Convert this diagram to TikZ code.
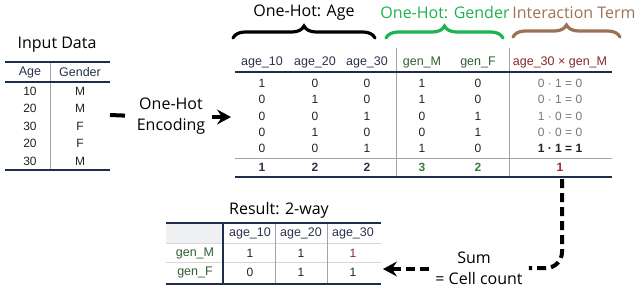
\documentclass[tikz,border=0pt]{standalone}
\usepackage{fontspec}
\setmainfont{Open Sans}
\newfontfamily\tabfont{Liberation Sans}
\usetikzlibrary{arrows.meta,decorations.pathreplacing}
\definecolor{navy}{HTML}{1F2D4D}
\definecolor{headc}{HTML}{28324A}
\definecolor{genc}{HTML}{2E5E33}
\definecolor{intc}{HTML}{8B2525}
\definecolor{cellc}{HTML}{222222}
\definecolor{grayv}{HTML}{777777}
\definecolor{rulegray}{HTML}{A0A4AA}
\definecolor{lightrule}{HTML}{D4D7DB}
\definecolor{bracegreen}{HTML}{1DB350}
\definecolor{bracebrown}{HTML}{9C7257}
\definecolor{totgreen}{HTML}{3A7A3A}
\definecolor{totred}{HTML}{A02828}
\definecolor{cellfill}{HTML}{EEF0F2}
\begin{document}
\begin{tikzpicture}[x=1pt,y=-1pt,
  lbl/.style={font=\fontsize{16}{21}\selectfont, inner sep=1pt, align=center},
  hd/.style={font=\tabfont\fontsize{12.5}{14}\selectfont, text=headc, inner sep=0pt},
  cl/.style={font=\tabfont\fontsize{12}{14}\selectfont, text=cellc, inner sep=0pt},
  iv/.style={font=\tabfont\fontsize{12}{14}\selectfont, text=grayv, inner sep=0pt},
  tot/.style={font=\tabfont\bfseries\fontsize{12}{14}\selectfont, text=headc, inner sep=0pt},
  navyrule/.style={draw=navy, line width=1.8pt},
  thinrule/.style={draw=rulegray, line width=0.7pt},
  lightline/.style={draw=lightrule, line width=0.7pt},
  bracestyle/.style={decorate, decoration={brace, amplitude=12pt}, line width=3.2pt, line cap=round},
  bigdash/.style={draw=black, line width=4pt, dash pattern=on 9pt off 5pt},
  bigtip/.style={-{Stealth[length=14pt,width=15pt,inset=5pt]}}
]
\useasboundingbox (0,0) rectangle (640,303);

% ---------- Input table ----------
\node[lbl] (inTitle) at (57,45) {Input Data};
\fill[white] (5,62) rectangle (110,170);
\draw[thinrule] (50,62) -- (50,170);
\draw[navyrule] (5,62) -- (110,62);
\draw[navyrule] (5,82) -- (110,82);
\draw[navyrule] (5,170) -- (110,170);
\node[hd] (inH1) at (30,72) {Age};
\node[hd] (inH2) at (80,72) {Gender};
\foreach \y/\a/\g [count=\i] in {91/10/M, 108.5/20/M, 126/30/F, 143.5/20/F, 161/30/M}{
  \node[cl] (inA\i) at (30,\y) {\a};
  \node[cl] (inG\i) at (80,\y) {\g};
}
\coordinate (inE) at (110,115);

% ---------- One-hot encoding arrow ----------
\node[lbl, inner xsep=2pt] (enc) at (171,116) {One-Hot\\Encoding};
\draw[line width=4pt, dash pattern=on 15pt off 20pt] (inE) -- (enc.west);
\coordinate (mainW) at (231,117);
\draw[line width=4pt, bigtip, shorten <=5pt] (enc.east |- mainW) -- (mainW);

% ---------- Braces ----------
\coordinate (bA1) at (233,38);
\coordinate (bA2) at (375,38);
\draw[bracestyle, draw=black] (bA1) -- (bA2);
\node[lbl] (lblAge) at (304,13) {One-Hot: Age};
\coordinate (bG1) at (386,38);
\coordinate (bG2) at (503,38);
\draw[bracestyle, draw=bracegreen] (bG1) -- (bG2);
\node[lbl, text=bracegreen] (lblGen) at (445,13) {One-Hot: Gender};
\coordinate (bI1) at (513,37);
\coordinate (bI2) at (620,37);
\draw[bracestyle, draw=bracebrown] (bI1) -- (bI2);
\node[lbl, text=bracebrown] (lblInt) at (574,13) {Interaction Term};

% ---------- Main table ----------
\draw[thinrule] (396,48) -- (396,177);
\draw[thinrule] (509,48) -- (509,177);
\draw[navyrule] (235,72) -- (612,72);
\draw[thinrule] (235,158) -- (612,158);
\draw[navyrule] (235,177) -- (612,177);
\node[hd] (h1) at (262,62) {age\_10};
\node[hd] (h2) at (315,62) {age\_20};
\node[hd] (h3) at (367,62) {age\_30};
\node[hd, text=genc] (h4) at (422,62) {gen\_M};
\node[hd, text=genc] (h5) at (478,62) {gen\_F};
\node[hd, text=intc] (h6) at (560,62) {age\_30 × gen\_M};
\foreach \y/\a/\b/\c/\d/\e/\f [count=\i] in {
  83/1/0/0/1/0/{0 · 1 = 0},
  99.5/0/1/0/1/0/{0 · 1 = 0},
  116/0/0/1/0/1/{1 · 0 = 0},
  132/0/1/0/0/1/{0 · 0 = 0}}{
  \node[cl] (r\i c1) at (262,\y) {\a};
  \node[cl] (r\i c2) at (315,\y) {\b};
  \node[cl] (r\i c3) at (367,\y) {\c};
  \node[cl] (r\i c4) at (422,\y) {\d};
  \node[cl] (r\i c5) at (478,\y) {\e};
  \node[iv] (r\i c6) at (560,\y) {\f};
}
\node[cl] (r5c1) at (262,148) {0};
\node[cl] (r5c2) at (315,148) {0};
\node[cl] (r5c3) at (367,148) {1};
\node[cl] (r5c4) at (422,148) {1};
\node[cl] (r5c5) at (478,148) {0};
\node[cl, font=\tabfont\bfseries\fontsize{12}{14}\selectfont] (r5c6) at (560,148) {1 · 1 = 1};
\node[tot] (t1) at (262,167) {1};
\node[tot] (t2) at (315,167) {2};
\node[tot] (t3) at (367,167) {2};
\node[tot, text=totgreen] (t4) at (422,167) {3};
\node[tot, text=totgreen] (t5) at (478,167) {2};
\node[tot, text=totred] (t6) at (560,167) {1};

% ---------- Sum arrow ----------
\coordinate (arrStart) at (562,179);
\node[lbl, inner xsep=6pt] (sum) at (479,268) {\hspace*{-10pt}Sum\\= Cell count};
\draw[bigdash, rounded corners=16pt] (arrStart) |- (sum.east);
\coordinate (resE) at (383,269);
\draw[bigdash, bigtip] (sum.west |- resE) -- (resE);

% ---------- Result table ----------
\node[lbl] (resTitle) at (279,210) {Result: 2-way};
\fill[cellfill] (166,223) rectangle (223,243);
\draw[lightline] (166,243) -- (381,243);
\draw[lightline] (166,262) -- (381,262);
\draw[thinrule] (275,223) -- (275,284);
\draw[thinrule] (327,223) -- (327,284);
\draw[navyrule] (223,223) -- (223,284);
\draw[navyrule] (166,223) -- (381,223);
\draw[navyrule] (166,284) -- (381,284);
\node[hd] (rh1) at (250,233) {age\_10};
\node[hd] (rh2) at (301,233) {age\_20};
\node[hd] (rh3) at (353,233) {age\_30};
\node[hd, text=genc] (rgM) at (195,253) {gen\_M};
\node[hd, text=genc] (rgF) at (195,272) {gen\_F};
\node[cl] (m1) at (250,253) {1};
\node[cl] (m2) at (301,253) {1};
\node[cl, text=intc] (m3) at (353,253) {1};
\node[cl] (f1) at (250,272) {0};
\node[cl] (f2) at (301,272) {1};
\node[cl] (f3) at (353,272) {1};
\end{tikzpicture}
\end{document}
